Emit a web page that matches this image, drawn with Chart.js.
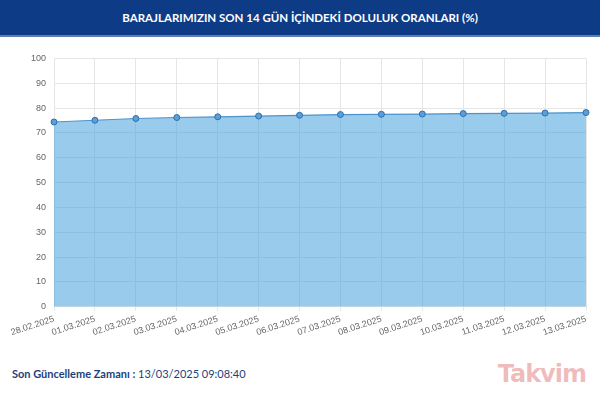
<!DOCTYPE html>
<html>
<head>
<meta charset="utf-8">
<script src="https://cdn.jsdelivr.net/npm/chart.js@4"></script>
<style>
    html, body { margin: 0; padding: 0; background: #fff; width: 600px; height: 395px; overflow: hidden; }
    .header {
        height: 35px;
        background: #0e3b86;
        border-bottom: 2px solid #5c7fb8;
        color: #fff;
        font-family: Lato, "Open Sans", sans-serif;
        font-weight: 700;
        font-size: 11.5px;
        line-height: 35px;
        text-align: center;
    }
    .chart-box { position: absolute; left: 3px; top: 45px; width: 597px; height: 296px; }
    .footer {
        position: absolute; left: 12px; top: 367px;
        font-family: Lato, "Open Sans", sans-serif; font-size: 11px; color: #1c3f7e;
    }
    .footer b { font-weight: 700; }
    .logo {
        position: absolute; right: 14px; top: 360px;
        font-family: "DejaVu Sans", sans-serif; font-weight: 700; font-size: 24px;
        color: rgba(210, 60, 60, 0.35); letter-spacing: -1px;
    }
</style>
</head>
<body>
<div class="header">BARAJLARIMIZIN SON 14 GÜN İÇİNDEKİ DOLULUK ORANLARI (%)</div>
<div class="chart-box"><canvas id="dolulukChart"></canvas></div>
<div class="footer"><b>Son Güncelleme Zamanı :</b> 13/03/2025 09:08:40</div>
<div class="logo">Takvim</div>

<script>
// dates on the x axis
const day_labels = [
    '28.02.2025', '01.03.2025', '02.03.2025', '03.03.2025', '04.03.2025',
    '05.03.2025', '06.03.2025', '07.03.2025', '08.03.2025', '09.03.2025',
    '10.03.2025', '11.03.2025', '12.03.2025', '13.03.2025'
];

// fill ratio (%) per day
const fill_ratios = [
    74.4, 75.1, 75.8, 76.2, 76.5, 76.8, 77.1,
    77.4, 77.5, 77.6, 77.8, 77.9, 78.0, 78.2
];

const y_ticks = [0, 10, 20, 30, 40, 50, 60, 70, 80, 90, 100];

const ctx = document.getElementById('dolulukChart').getContext('2d');

new Chart(ctx, {
    type: 'line',
    data: {
        labels: day_labels,
        datasets: [{
            data: fill_ratios,
            fill: true,
            backgroundColor: 'rgba(52, 152, 219, 0.5)',
            borderColor: '#4f93cc',
            borderWidth: 1.2,
            pointRadius: 3,
            pointBackgroundColor: '#5b9fd6',
            pointBorderColor: '#2f6fae',
            pointBorderWidth: 1,
            tension: 0
        }]
    },
    options: {
        responsive: true,
        maintainAspectRatio: false,
        animation: false,
        layout: { padding: { left: 20, right: 14, top: 6, bottom: 0 } },
        plugins: {
            legend: { display: false },
            tooltip: { enabled: false }
        },
        scales: {
            y: {
                min: 0,
                max: 100,
                afterBuildTicks: axis => { axis.ticks = y_ticks.map(v => ({ value: v })); },
                grid: { color: '#e6e6e6', drawTicks: false },
                border: { color: '#e6e6e6' },
                ticks: { color: '#666', font: { size: 9, family: 'Liberation Sans, Arial' }, padding: 8 }
            },
            x: {
                grid: { color: '#e6e6e6', tickLength: 4 },
                border: { color: '#e6e6e6' },
                ticks: {
                    color: '#666',
                    font: { size: 9, family: 'Liberation Sans, Arial' },
                    minRotation: 18,
                    maxRotation: 18,
                    autoSkip: false
                }
            }
        }
    }
});
</script>
</body>
</html>
